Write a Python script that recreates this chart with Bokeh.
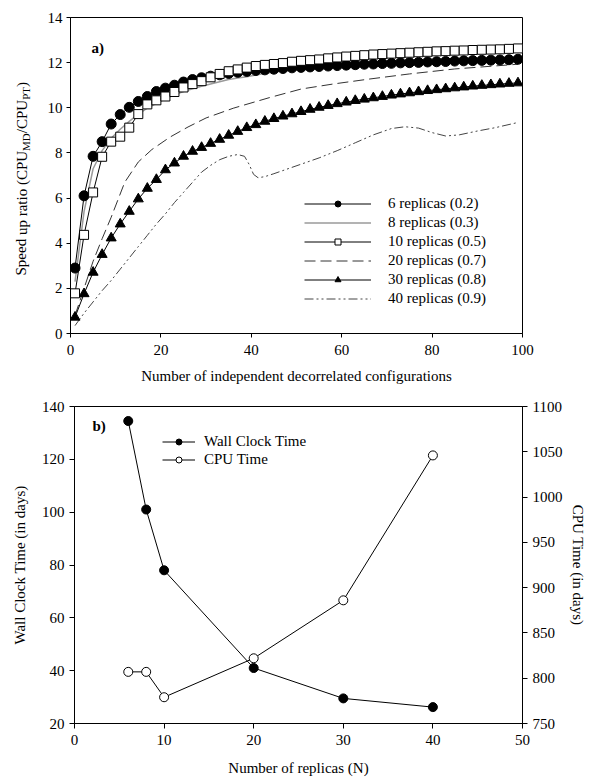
from bokeh.plotting import figure
from bokeh.models import Range1d, LinearAxis, Legend, LegendItem, Label, FixedTicker
from bokeh.layouts import column, row
from bokeh.embed import file_html
from bokeh.resources import INLINE

FONT = "Liberation Serif"

# ---------------- data: panel a ----------------
x_marked = [1, 3, 5, 7, 9, 11, 13, 15, 17, 19, 21, 23, 25, 27, 29, 31, 33, 35, 37, 39,
            41, 43, 45, 47, 49, 51, 53, 55, 57, 59, 61, 63, 65, 67, 69, 71, 73, 75, 77, 79,
            81, 83, 85, 87, 89, 91, 93, 95, 97, 99]
rep6 = [2.9, 6.1, 7.85, 8.5, 9.28, 9.7, 10.02, 10.28, 10.5, 10.72, 10.87, 11.0, 11.14, 11.25,
        11.33, 11.4, 11.46, 11.52, 11.57, 11.61, 11.65, 11.68, 11.71, 11.74, 11.77, 11.79,
        11.81, 11.83, 11.85, 11.87, 11.89, 11.91, 11.93, 11.94, 11.96, 11.97, 11.99, 12.0,
        12.01, 12.03, 12.04, 12.05, 12.07, 12.08, 12.09, 12.1, 12.11, 12.12, 12.13, 12.15]
rep10 = [1.78, 4.37, 6.25, 7.83, 8.5, 8.72, 9.12, 9.72, 10.15, 10.33, 10.5, 10.7, 10.9, 11.05,
         11.18, 11.35, 11.5, 11.62, 11.7, 11.78, 11.85, 11.9, 11.94, 11.98, 12.04, 12.08,
         12.11, 12.14, 12.19, 12.23, 12.27, 12.3, 12.33, 12.36, 12.38, 12.4, 12.42, 12.44,
         12.46, 12.48, 12.5, 12.51, 12.53, 12.54, 12.56, 12.57, 12.58, 12.59, 12.61, 12.63]
rep30 = [0.72, 1.76, 2.71, 3.5, 4.23, 4.85, 5.41, 5.96, 6.43, 6.82, 7.25, 7.55, 7.85, 8.07,
         8.24, 8.42, 8.6, 8.78, 8.95, 9.12, 9.25, 9.4, 9.52, 9.63, 9.73, 9.83, 9.93, 10.02,
         10.1, 10.18, 10.25, 10.32, 10.38, 10.44, 10.5, 10.56, 10.61, 10.66, 10.71, 10.76,
         10.8, 10.84, 10.88, 10.92, 10.96, 10.99, 11.02, 11.05, 11.08, 11.1]

x_rep8 = [1, 3, 5, 7, 9, 11, 13, 15, 17, 19, 21, 23, 25, 27, 29, 31, 33, 35, 37, 39, 41,
          45, 50, 55, 60, 70, 80, 90, 99]
rep8 = [2.3, 5.4, 7.3, 8.1, 8.65, 9.05, 9.4, 9.72, 9.98, 10.2, 10.4, 10.57, 10.72, 10.84,
        10.95, 11.05, 11.15, 11.25, 11.32, 11.38, 11.45, 11.58, 11.7, 11.78, 11.84, 11.92,
        11.98, 12.02, 12.06]

x_rep20 = [1, 3, 5, 7, 9, 12, 15, 18, 22, 26, 30, 36, 44, 51, 58, 66, 75, 85, 99]
rep20 = [0.8, 2.0, 3.2, 4.2, 5.15, 6.7, 7.6, 8.15, 8.7, 9.15, 9.55, 9.98, 10.45, 10.83,
         11.05, 11.27, 11.5, 11.72, 11.93]

x_rep40 = [1, 3, 5, 7, 9, 11, 13, 15, 17, 19, 21, 23, 25, 27, 29, 31, 33, 35, 37, 38.5,
           39.5, 40.5, 41.5, 43, 45, 47, 49, 51, 55, 59, 63, 67, 71, 74, 77, 80, 83, 86,
           90, 94, 99]
rep40 = [0.35, 0.9, 1.4, 1.9, 2.35, 2.85, 3.35, 3.85, 4.35, 4.85, 5.3, 5.8, 6.25, 6.7, 7.15,
         7.45, 7.7, 7.85, 7.93, 7.85, 7.5, 7.05, 6.9, 6.95, 7.08, 7.22, 7.36, 7.5, 7.78, 8.1,
         8.45, 8.8, 9.08, 9.16, 9.1, 8.9, 8.75, 8.8, 8.97, 9.12, 9.35]

labels_a = ["6 replicas (0.2)", "8 replicas (0.3)", "10 replicas (0.5)",
            "20 replicas (0.7)", "30 replicas (0.8)", "40 replicas (0.9)"]
xticks_a = [0, 20, 40, 60, 80, 100]
yticks_a = [0, 2, 4, 6, 8, 10, 12, 14]

# ---------------- data: panel b ----------------
replicas = [6, 8, 10, 20, 30, 40]
wall_time = [134.5, 101, 78, 41, 29.5, 26.2]
cpu_time = [807, 807, 779, 822, 886, 1046]
xticks_b = [0, 10, 20, 30, 40, 50]
yticks_b = [20, 40, 60, 80, 100, 120, 140]
yticks_b2 = [750, 800, 850, 900, 950, 1000, 1050, 1100]


def style_axis(ax, tick_out=5, standoff=5, label_standoff=8):
    ax.axis_line_color = "black"
    ax.axis_line_width = 1
    ax.major_tick_line_color = "black"
    ax.major_tick_in = 0
    ax.major_tick_out = tick_out
    ax.minor_tick_line_color = None
    ax.major_label_text_font = FONT
    ax.major_label_text_font_size = "15px"
    ax.major_label_text_color = "black"
    ax.major_label_standoff = standoff
    ax.axis_label_text_font = FONT
    ax.axis_label_text_font_size = "15px"
    ax.axis_label_text_font_style = "normal"
    ax.axis_label_text_color = "black"
    ax.axis_label_standoff = label_standoff


# ================= layout constants =================
TOP_H = 392
TOP_BORDER_TOP = 17
TOP_BORDER_BOTTOM = 59
FRAME_H = TOP_H - TOP_BORDER_TOP - TOP_BORDER_BOTTOM   # frame height shared by the row

# ================= y label strip for panel a =================
# (its frame is aligned by the row layout with the frame of panel a, so its
#  y range is expressed in pixels above the frame bottom)
lab = figure(width=44, height=TOP_H, x_range=Range1d(0, 44), y_range=Range1d(0, FRAME_H),
             output_backend="svg", toolbar_location=None, min_border=0,
             x_axis_location=None, y_axis_location=None, title=None)
lab.outline_line_color = None
lab.grid.visible = False
lab.background_fill_color = "white"
lab.border_fill_color = "white"

W = {'S': .556, 'p': .5, 'e': .444, 'd': .5, ' ': .25, 'u': .5, 'r': .333, 'a': .444,
     't': .278, 'i': .278, 'o': .5, '(': .333, ')': .333, 'C': .667, 'P': .556, 'U': .722,
     'M': .889, 'D': .722, '/': .278, 'T': .611}
pieces = [("Speed up ratio (CPU", 15, 0), ("MD", 11, 4), ("/CPU", 15, 0), ("PT", 11, 4), (")", 15, 0)]
ypos = 58
for txt, fs, sub in pieces:
    w = sum(W.get(c, .5) for c in txt) * fs
    lab.add_layout(Label(x=21 + sub, y=ypos + w / 2, text=txt, angle=1.5707963,
                         text_font=FONT, text_font_size=f"{fs}px", text_baseline="middle",
                         text_align="center", text_color="black"))
    ypos += w

# ================= panel a =================
p1 = figure(width=544, height=TOP_H, x_range=Range1d(0, 100), y_range=Range1d(0, 14),
            output_backend="svg", toolbar_location=None,
            min_border_left=25, min_border_right=66, min_border_top=TOP_BORDER_TOP,
            min_border_bottom=TOP_BORDER_BOTTOM)
p1.xgrid.visible = False
p1.ygrid.visible = False
p1.outline_line_color = "black"
p1.outline_line_alpha = 1
p1.background_fill_color = "white"
p1.border_fill_color = "white"
p1.xaxis.ticker = FixedTicker(ticks=xticks_a)
p1.yaxis.ticker = FixedTicker(ticks=yticks_a)
style_axis(p1.xaxis[0], tick_out=4, standoff=7, label_standoff=10)
style_axis(p1.yaxis[0], tick_out=4, standoff=4)
p1.xaxis.axis_label = "Number of independent decorrelated configurations"

r40 = p1.line(x_rep40, rep40, line_color="#444444", line_width=1, line_dash="9 3 2 3 2 3")
r20 = p1.line(x_rep20, rep20, line_color="#333333", line_width=1, line_dash="11 5")
r30l = p1.line(x_marked, rep30, line_color="black", line_width=1)
r30m = p1.scatter(x_marked, rep30, marker="triangle", size=10, fill_color="black", line_color="black")
r8 = p1.line(x_rep8, rep8, line_color="#9a9a9a", line_width=1.5)
r6l = p1.line(x_marked, rep6, line_color="black", line_width=1)
r6m = p1.scatter(x_marked, rep6, marker="circle", size=10, fill_color="black", line_color="black")
r10l = p1.line(x_marked, rep10, line_color="black", line_width=1)
r10m = p1.scatter(x_marked, rep10, marker="square", size=9, fill_color="white", line_color="black")

leg1 = Legend(items=[
    LegendItem(label=labels_a[0], renderers=[r6l, r6m]),
    LegendItem(label=labels_a[1], renderers=[r8]),
    LegendItem(label=labels_a[2], renderers=[r10l, r10m]),
    LegendItem(label=labels_a[3], renderers=[r20]),
    LegendItem(label=labels_a[4], renderers=[r30l, r30m]),
    LegendItem(label=labels_a[5], renderers=[r40]),
], location=(234, 26), glyph_width=67, glyph_height=15, label_height=15, spacing=2,
   padding=0, margin=0, label_standoff=17, border_line_alpha=0, background_fill_alpha=0,
   label_text_font=FONT, label_text_font_size="15px", label_text_color="black")
p1.add_layout(leg1)

p1.add_layout(Label(x=0, y=14, x_offset=21, y_offset=-30, text="a)", text_font=FONT,
                    text_font_size="15px", text_font_style="bold", text_baseline="middle",
                    text_color="black"))

# ================= panel b =================
p2 = figure(width=588, height=388, x_range=Range1d(0, 50), y_range=Range1d(20, 140),
            output_backend="svg", toolbar_location=None,
            min_border_left=74, min_border_right=61, min_border_top=14, min_border_bottom=57)
p2.xgrid.visible = False
p2.ygrid.visible = False
p2.outline_line_color = "black"
p2.background_fill_color = "white"
p2.border_fill_color = "white"
p2.extra_y_ranges = {"cpu": Range1d(750, 1100)}
p2.xaxis.ticker = FixedTicker(ticks=xticks_b)
p2.yaxis.ticker = FixedTicker(ticks=yticks_b)
style_axis(p2.xaxis[0], tick_out=5, standoff=6, label_standoff=12)
style_axis(p2.yaxis[0], tick_out=5, standoff=5, label_standoff=11)
p2.xaxis.axis_label = "Number of replicas (N)"
p2.yaxis.axis_label = "Wall Clock Time (in days)"
rax = LinearAxis(y_range_name="cpu", axis_label="CPU Time (in days)",
                 ticker=FixedTicker(ticks=yticks_b2))
style_axis(rax, tick_out=5, standoff=5, label_standoff=4)
p2.add_layout(rax, "right")

rwl = p2.line(replicas, wall_time, line_color="black", line_width=1)
rwm = p2.scatter(replicas, wall_time, marker="circle", size=9, fill_color="black", line_color="black")
rcl = p2.line(replicas, cpu_time, line_color="black", line_width=1, y_range_name="cpu")
rcm = p2.scatter(replicas, cpu_time, marker="circle", size=9, fill_color="white", line_color="black",
                 y_range_name="cpu")

leg2 = Legend(items=[
    LegendItem(label="Wall Clock Time", renderers=[rwl, rwm]),
    LegendItem(label="CPU Time", renderers=[rcl, rcm]),
], location=(88, 255), glyph_width=33, glyph_height=15, label_height=15, spacing=1,
   padding=0, margin=0, label_standoff=9, border_line_alpha=0, background_fill_alpha=0,
   label_text_font=FONT, label_text_font_size="15px", label_text_color="black")
p2.add_layout(leg2)

p2.add_layout(Label(x=0, y=140, x_offset=18, y_offset=-19, text="b)", text_font=FONT,
                    text_font_size="15px", text_font_style="bold", text_baseline="middle",
                    text_color="black"))

layout = column(row(lab, p1, spacing=0), p2, spacing=0)
open("out.html", "w").write(file_html(layout, INLINE))
